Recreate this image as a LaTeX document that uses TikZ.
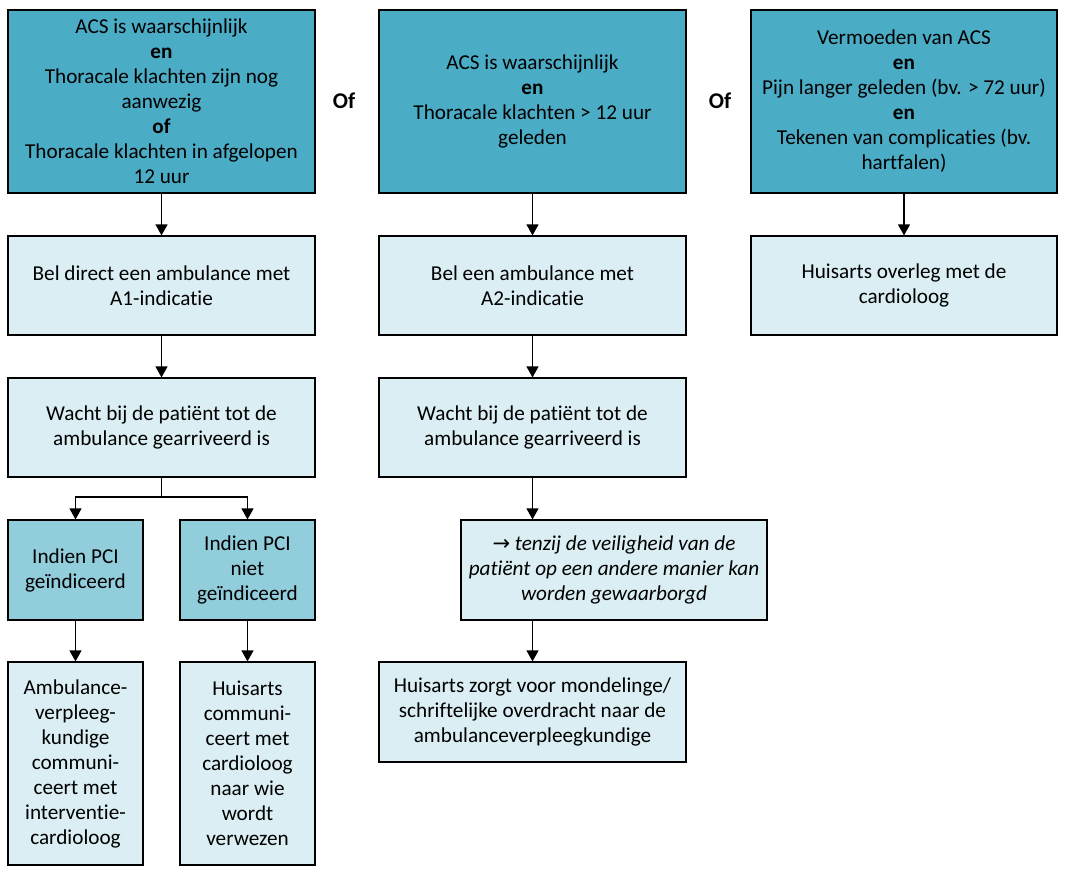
\documentclass[tikz,border=0pt]{standalone}
\usepackage{fontspec}
\setmainfont[Ligatures=NoCommon]{Carlito}
\newfontfamily\symf{DejaVu Sans}
\usetikzlibrary{arrows.meta}
\definecolor{darkbox}{HTML}{4BACC6}
\definecolor{midbox}{HTML}{92CDDC}
\definecolor{lightbox}{HTML}{DAEEF3}
\tikzset{
  box/.style={draw=black, line width=1.2pt, rectangle, align=center, inner sep=1pt,
    font=\fontsize{21.2}{25}\selectfont},
  dbox/.style={box, fill=darkbox},
  mbox/.style={box, fill=midbox},
  lbox/.style={box, fill=lightbox},
  arr/.style={line width=1.2pt, -{Triangle[width=12pt,length=11pt]}},
  ofl/.style={font=\fontsize{22.5}{25}\selectfont\bfseries}
}
\begin{document}
\begin{tikzpicture}[x=1pt,y=-1pt]
\useasboundingbox (0,0) rectangle (1071,876);
% row 1
\node[dbox, minimum width=307pt, minimum height=183pt] (A) at (161.5,101.5)
  {ACS is waarschijnlijk\\ \textbf{en}\\ Thoracale klachten zijn nog\\ aanwezig\\ \textbf{of}\\ Thoracale klachten in afgelopen\\ 12 uur};
\node[dbox, minimum width=307pt, minimum height=183pt] (B) at (532.5,101.5)
  {ACS is waarschijnlijk\\ \textbf{en}\\ Thoracale klachten > 12 uur\\ geleden};
\node[dbox, minimum width=306pt, minimum height=183pt] (C) at (904,101.5)
  {Vermoeden van ACS\\ \textbf{en}\\ Pijn langer geleden (bv. > 72 uur)\\ \textbf{en}\\ Tekenen van complicaties (bv.\\ hartfalen)};
\node[ofl] (of1) at (344,101) {Of};
\node[ofl] (of2) at (720,101) {Of};
% row 2
\node[lbox, minimum width=307pt, minimum height=99pt] (A2) at (161.5,285.5)
  {Bel direct een ambulance met\\ A1-indicatie};
\node[lbox, minimum width=307pt, minimum height=99pt] (B2) at (532.5,285.5)
  {Bel een ambulance met\\ A2-indicatie};
\node[lbox, minimum width=306pt, minimum height=99pt] (C2) at (904,285.5)
  {Huisarts overleg met de\\ cardioloog};
% row 3
\node[lbox, minimum width=307pt, minimum height=99pt] (A3) at (161.5,427.5)
  {Wacht bij de patiënt tot de\\ ambulance gearriveerd is};
\node[lbox, minimum width=307pt, minimum height=99pt] (B3) at (532.5,427.5)
  {Wacht bij de patiënt tot de\\ ambulance gearriveerd is};
% row 4
\node[mbox, minimum width=135pt, minimum height=100pt] (L4) at (75.5,570)
  {Indien PCI\\ geïndiceerd};
\node[mbox, minimum width=135pt, minimum height=100pt] (R4) at (247.5,570)
  {Indien PCI\\ niet\\ geïndiceerd};
\node[lbox, minimum width=306pt, minimum height=100pt] (T) at (614,570)
  {{\symf\fontsize{21}{25}\selectfont →} \textit{tenzij de veiligheid van de}\\ \textit{patiënt op een andere manier kan}\\ \textit{worden gewaarborgd}};
% row 5
\node[lbox, minimum width=135pt, minimum height=203pt] (L5) at (75.5,763.5)
  {Ambulance-\\ verpleeg-\\ kundige\\ communi-\\ ceert met\\ interventie-\\ cardioloog};
\node[lbox, minimum width=135pt, minimum height=203pt] (R5) at (247.5,763.5)
  {Huisarts\\ communi-\\ ceert met\\ cardioloog\\ naar wie\\ wordt\\ verwezen};
\node[lbox, minimum width=307pt, minimum height=100pt] (B5) at (532.5,712)
  {Huisarts zorgt voor mondelinge/\\ schriftelijke overdracht naar de\\ ambulanceverpleegkundige};
% connectors
\draw[arr] (A) -- (A2);
\draw[arr] (B) -- (B2);
\draw[arr] (C) -- (C2);
\draw[arr] (A2) -- (A3);
\draw[arr] (B2) -- (B3);
\coordinate (split) at (161.5,497);
\draw[line width=1.2pt] (A3.south) -- (split);
\draw[arr] (split) -| (L4.north);
\draw[arr] (split) -| (R4.north);
\draw[arr] (L4) -- (L5);
\draw[arr] (R4) -- (R5);
\draw[arr] (B3.south) -- (B3.south |- T.north);
\draw[arr] (T.south -| B5.north) -- (B5.north);
\end{tikzpicture}
\end{document}
